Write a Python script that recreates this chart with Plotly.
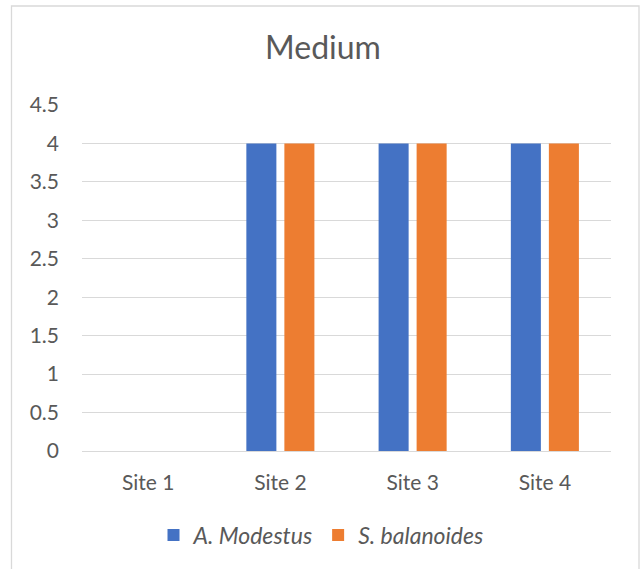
import plotly.graph_objects as go

# Chart data
sites = ["Site 1", "Site 2", "Site 3", "Site 4"]
a_modestus = [0, 4, 4, 4]
s_balanoides = [0, 4, 4, 4]
y_ticks = [0, 0.5, 1, 1.5, 2, 2.5, 3, 3.5, 4, 4.5]
y_tick_text = ["0", "0.5", "1", "1.5", "2", "2.5", "3", "3.5", "4", "4.5"]

W, H = 642, 569
L, R, T, B = 82, 31, 105, 118
PW, PH = W - L - R, H - T - B

TEXT = "#595959"
GRID = "#D9D9D9"
FONT = "Lato, Carlito, Calibri, sans-serif"

fig = go.Figure()
fig.add_trace(go.Bar(x=sites, y=a_modestus, name="<i>A. Modestus</i>",
                     marker=dict(color="#4472C4", line=dict(width=0))))
fig.add_trace(go.Bar(x=sites, y=s_balanoides, name="<i>S. balanoides</i>",
                     marker=dict(color="#ED7D31", line=dict(width=0))))


def px_x(p):
    return (p - L) / PW


def px_y(p):
    return (H - B - p) / PH


# light outer frame of the chart area
fig.add_shape(type="rect", xref="paper", yref="paper",
              x0=px_x(11.5), x1=px_x(639), y0=px_y(600), y1=px_y(6),
              line=dict(color=GRID, width=1.3), fillcolor="rgba(0,0,0,0)",
              layer="below")

fig.update_layout(
    width=W, height=H,
    margin=dict(l=L, r=R, t=T, b=B, pad=0, autoexpand=False),
    paper_bgcolor="white", plot_bgcolor="white",
    font=dict(family=FONT, color=TEXT, size=21),
    title=dict(text="Medium", x=323 / W, xref="container", xanchor="center",
               y=1 - 48 / H, yref="container", yanchor="middle",
               font=dict(family=FONT, size=32, color=TEXT)),
    barmode="group", bargap=0.425, bargroupgap=0.21,
    showlegend=True,
    legend=dict(orientation="h", x=px_x(321), xanchor="center",
                y=px_y(535), yanchor="middle",
                font=dict(family=FONT, size=23, color=TEXT),
                bgcolor="rgba(0,0,0,0)", itemwidth=30, traceorder="normal"),
)

fig.update_xaxes(showgrid=False, showline=False, zeroline=False, ticks="",
                 tickangle=0,
                 tickfont=dict(family=FONT, size=21, color=TEXT),
                 ticklabelstandoff=17)
fig.update_yaxes(range=[0, 4.5], tickvals=y_ticks, ticktext=y_tick_text,
                 showgrid=True, gridcolor=GRID, gridwidth=1.3,
                 zeroline=True, zerolinecolor=GRID, zerolinewidth=1.3,
                 showline=False, ticks="",
                 tickfont=dict(family=FONT, size=21, color=TEXT),
                 ticklabelstandoff=22)

fig.write_html("out.html")
